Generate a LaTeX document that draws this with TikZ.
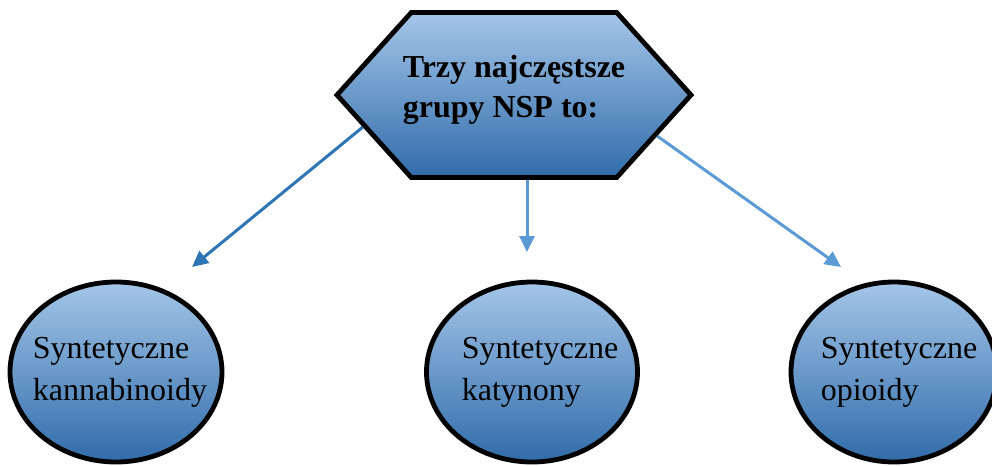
\documentclass[tikz,border=0pt]{standalone}
\usepackage{fontspec}
\setmainfont{Liberation Serif}
\usetikzlibrary{shapes.geometric,shapes.symbols,arrows.meta}
\definecolor{topblue}{RGB}{164,198,232}
\definecolor{botblue}{RGB}{48,108,170}
\definecolor{darkarrow}{RGB}{46,117,182}
\definecolor{lightarrow}{RGB}{91,155,213}
\begin{document}
\begin{tikzpicture}[x=0.5pt,y=-0.5pt,
    grad/.style={draw=black, line width=2.4pt, top color=topblue, bottom color=botblue},
    group/.style={grad, ellipse, inner sep=0pt, minimum height=90pt},
    grouptext/.style={align=left, font=\fontsize{16}{21}\selectfont},
    arr/.style={line width=1.5pt, -{Triangle[length=8pt,width=7.5pt]}}]
    \useasboundingbox (0,0) rectangle (992,466);
    \node[grad, signal, signal to=west and east, signal pointer angle=96, minimum width=177pt, minimum height=82.5pt, inner sep=0pt,
        label={[align=left, font=\bfseries\fontsize{16}{20}\selectfont, yshift=2.75pt]center:Trzy najczęstsze\\grupy NSP to:}] (nsp) at (514,95) {};
    \node[group, minimum width=106pt, label={[grouptext, xshift=2pt]center:Syntetyczne\\kannabinoidy}] (kanna) at (116,372) {};
    \node[group, minimum width=105.5pt, label={[grouptext, xshift=4pt]center:Syntetyczne\\katynony}] (katy) at (532,372) {};
    \node[group, minimum width=103pt, label={[grouptext, xshift=2.5pt]center:Syntetyczne\\opioidy}] (opio) at (894,372) {};
    \coordinate (kend) at (192,267);
    \coordinate (mend) at (527,252);
    \coordinate (oend) at (841,267);
    \path[arr, darkarrow] (nsp.192) edge (kend);
    \path[arr, lightarrow] (nsp.south -| mend) edge (mend);
    \path[arr, lightarrow] (nsp.344) edge (oend);
\end{tikzpicture}
\end{document}
